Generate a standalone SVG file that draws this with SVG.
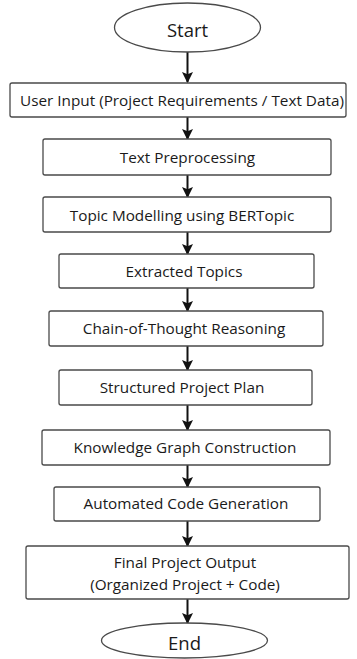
<svg xmlns="http://www.w3.org/2000/svg" width="357" height="659" viewBox="0 0 357 659">
  <style>
    .box { fill: #ffffff; stroke: #4a4a4a; stroke-width: 1.3; }
    .lbl { font-family: "Open Sans", "Noto Sans", sans-serif; font-size: 15.3px; fill: #1a1a1a; text-anchor: middle; dominant-baseline: central; }
    .term { font-family: "Open Sans", "Noto Sans", sans-serif; font-size: 18.5px; fill: #1a1a1a; text-anchor: middle; dominant-baseline: central; }
    .flow { stroke: #111111; stroke-width: 2; fill: none; marker-end: url(#head); }
  </style>
  <defs>
    <marker id="head" viewBox="0 0 10 10" refX="9" refY="5" markerWidth="5.5" markerHeight="5.5" orient="auto" markerUnits="strokeWidth">
      <path d="M0,0 L10,5 L0,10 L2,5 Z" fill="#111111"/>
    </marker>
  </defs>
  <rect width="357" height="659" fill="#ffffff"/>

  <g id="connectors">
    <line class="flow" x1="187.5" y1="52" x2="187.5" y2="82"/>
    <line class="flow" x1="187.5" y1="117" x2="187.5" y2="139"/>
    <line class="flow" x1="187.5" y1="175" x2="187.5" y2="197"/>
    <line class="flow" x1="187.5" y1="232" x2="187.5" y2="254"/>
    <line class="flow" x1="187.5" y1="288" x2="187.5" y2="311"/>
    <line class="flow" x1="187.5" y1="346" x2="187.5" y2="370"/>
    <line class="flow" x1="187.5" y1="405" x2="187.5" y2="430"/>
    <line class="flow" x1="187.5" y1="465" x2="187.5" y2="487"/>
    <line class="flow" x1="187.5" y1="521" x2="187.5" y2="546"/>
    <line class="flow" x1="187.5" y1="599" x2="187.5" y2="623"/>
  </g>

  <g id="start">
    <ellipse class="box" cx="187.5" cy="27.5" rx="73" ry="24.5"/>
    <text class="term" x="187.5" y="29">Start</text>
  </g>
  <g id="user-input">
    <rect class="box" x="10" y="83" width="336" height="34" rx="2"/>
    <text class="lbl" x="182" y="100">User Input (Project Requirements / Text Data)</text>
  </g>
  <g id="text-preprocessing">
    <rect class="box" x="43" y="139" width="288" height="36" rx="2"/>
    <text class="lbl" x="187.5" y="157">Text Preprocessing</text>
  </g>
  <g id="topic-modelling">
    <rect class="box" x="43" y="197" width="288" height="35" rx="2"/>
    <text class="lbl" x="182" y="214.5">Topic Modelling using BERTopic</text>
  </g>
  <g id="extracted-topics">
    <rect class="box" x="59" y="254" width="255" height="34" rx="2"/>
    <text class="lbl" x="184" y="270.5">Extracted Topics</text>
  </g>
  <g id="cot-reasoning">
    <rect class="box" x="49" y="311" width="274" height="35" rx="2"/>
    <text class="lbl" x="184" y="327.5">Chain-of-Thought Reasoning</text>
  </g>
  <g id="project-plan">
    <rect class="box" x="59" y="370" width="253" height="35" rx="2"/>
    <text class="lbl" x="182" y="386.5">Structured Project Plan</text>
  </g>
  <g id="knowledge-graph">
    <rect class="box" x="42" y="430" width="288" height="35" rx="2"/>
    <text class="lbl" x="185" y="447">Knowledge Graph Construction</text>
  </g>
  <g id="code-generation">
    <rect class="box" x="54" y="487" width="266" height="34" rx="2"/>
    <text class="lbl" x="186" y="502.5">Automated Code Generation</text>
  </g>
  <g id="final-output">
    <rect class="box" x="26" y="546" width="323" height="53" rx="2"/>
    <text class="lbl" x="185" y="562">Final Project Output</text>
    <text class="lbl" x="185" y="584">(Organized Project + Code)</text>
  </g>
  <g id="end">
    <ellipse class="box" cx="184.5" cy="640.5" rx="83" ry="17.5"/>
    <text class="term" x="184.5" y="642">End</text>
  </g>
</svg>
